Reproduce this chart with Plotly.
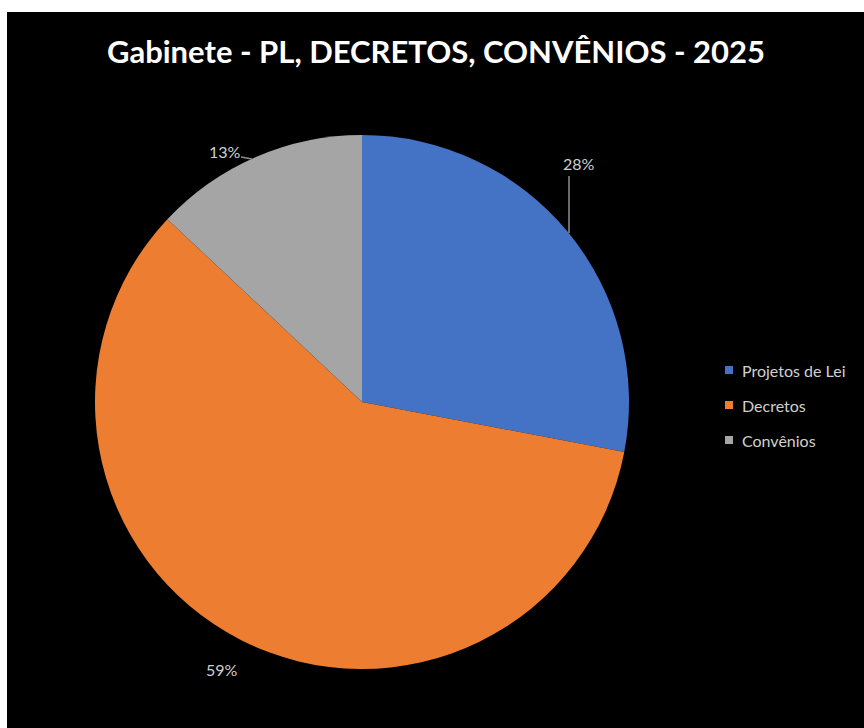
import plotly.graph_objects as go

# Data
categories = ["Projetos de Lei", "Decretos", "Convênios"]
values = [28, 59, 13]
colors = ["#4472C4", "#ED7D31", "#A5A5A5"]
title_text = "Gabinete - PL, DECRETOS, CONVÊNIOS - 2025"

W, H = 864, 728
cx, cy, r = 362, 402, 267  # pie centre and radius in pixels


def px(x):
    return x / W


def py(y):
    return 1 - y / H


fig = go.Figure()
fig.add_trace(go.Pie(
    labels=categories,
    values=values,
    sort=False,
    direction="clockwise",
    rotation=0,
    marker=dict(colors=colors, line=dict(width=0)),
    textinfo="none",
    hoverinfo="label+percent",
    showlegend=False,
    domain=dict(x=[px(cx - r), px(cx + r)], y=[py(cy + r), py(cy - r)]),
))

shapes = [
    # black chart area inside a thin white frame
    dict(type="rect", xref="paper", yref="paper", layer="below",
         x0=px(7), x1=1.0, y0=0.0, y1=py(12),
         fillcolor="black", line=dict(width=0)),
    # leader lines for the percentage labels
    dict(type="line", xref="paper", yref="paper",
         x0=px(569), y0=py(176), x1=px(569), y1=py(233),
         line=dict(color="#8c8c8c", width=1.5)),
    dict(type="line", xref="paper", yref="paper",
         x0=px(241), y0=py(157), x1=px(252), y1=py(159),
         line=dict(color="#8c8c8c", width=1.5)),
]

annotations = []

# percentage labels
total = sum(values)
label_pos = [(579, 163), (222, 669), (225, 151)]
for v, (lx, ly) in zip(values, label_pos):
    annotations.append(dict(
        x=px(lx), y=py(ly), xref="paper", yref="paper",
        text=f"{round(100 * v / total)}%", showarrow=False,
        xanchor="center", yanchor="middle",
        font=dict(family="Lato, Open Sans, sans-serif", size=16, color="#d0d0d0"),
    ))

# legend
legend_x, legend_y0, legend_dy = 729, 370, 35
for i, (name, col) in enumerate(zip(categories, colors)):
    yy = legend_y0 + i * legend_dy
    shapes.append(dict(type="rect", xref="paper", yref="paper",
                       x0=px(legend_x - 4), x1=px(legend_x + 4),
                       y0=py(yy + 4), y1=py(yy - 4),
                       fillcolor=col, line=dict(width=0)))
    annotations.append(dict(
        x=px(legend_x + 11), y=py(yy), xref="paper", yref="paper",
        text=name, showarrow=False, xanchor="left", yanchor="middle",
        font=dict(family="Lato, Open Sans, sans-serif", size=16, color="#d0d0d0"),
    ))

fig.update_layout(
    width=W, height=H,
    margin=dict(l=0, r=0, t=0, b=0, pad=0),
    paper_bgcolor="white",
    plot_bgcolor="black",
    title=dict(text=f"<b>{title_text}</b>", x=px(436), xanchor="center",
               y=py(52), yanchor="middle", xref="paper", yref="paper",
               font=dict(family="Lato, Open Sans, sans-serif", size=31, color="white")),
    shapes=shapes,
    annotations=annotations,
    showlegend=False,
)

fig.write_html("out.html")
